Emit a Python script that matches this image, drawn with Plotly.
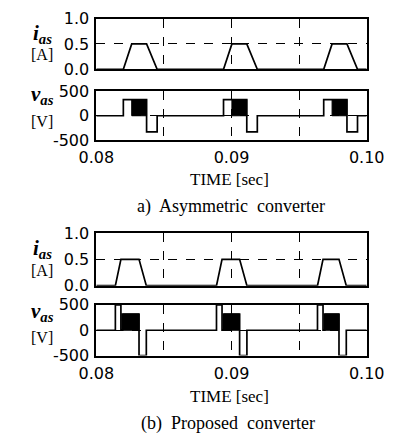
import plotly.graph_objects as go

W, H = 402, 447

# ---------------- data ----------------
# (a) Asymmetric converter
a_on        = [0.08200, 0.08941, 0.09682]   # phase switched on (+Vdc)
a_chop_beg  = [0.08262, 0.09003, 0.09744]   # start of current-regulation chopping
a_chop_end  = [0.08372, 0.09113, 0.09854]   # turn-off (−Vdc applied)
a_off       = [0.08450, 0.09191, 0.09932]   # current extinguished
a_vpos      = 330
a_vneg      = -330
a_ipeak     = 0.5

# (b) Proposed converter
b_boost_on  = [0.08141, 0.08889, 0.09636]   # boosted voltage applied
b_boost_off = [0.08182, 0.08930, 0.09677]
b_chop_beg  = [0.08195, 0.08943, 0.09690]
b_chop_end  = [0.08316, 0.09060, 0.09795]
b_off       = [0.08370, 0.09114, 0.09849]
b_vboost    = 500
b_vpos      = 320
b_vneg      = -500
b_ipeak     = 0.5

t_start, t_end = 0.08, 0.10
x_ticks = [0.08, 0.09, 0.10]
x_ticktext = ["0.08", "0.09", "0.10"]
x_minor_grid = [0.085, 0.095]
i_ticks = [0.0, 0.5, 1.0]
i_ticktext = ["0.0", "0.5", "1.0"]
v_ticks = [-500, 0, 500]
v_ticktext = ["-500", "0", "500"]


# ---------------- build waveforms from the arrays ----------------
def current_wave(on, top, fall, off, peak):
    xs, ys = [t_start], [0]
    for a, b, c, d in zip(on, top, fall, off):
        xs += [a, b, c, d]
        ys += [0, peak, peak, 0]
    xs.append(t_end); ys.append(0)
    return xs, ys


def blocks(beg, end, level):
    xs, ys = [], []
    for a, b in zip(beg, end):
        xs += [a, a, b, b, a, None]
        ys += [0, level, level, 0, 0, None]
    return xs, ys


# (a) voltage line
av_x, av_y = [t_start], [0]
for on, ce, off in zip(a_on, a_chop_end, a_off):
    av_x += [on, on, ce, ce, off, off]
    av_y += [0, a_vpos, a_vpos, a_vneg, a_vneg, 0]
av_x.append(t_end); av_y.append(0)

# (b) voltage line
bv_x, bv_y = [t_start], [0]
for bon, boff, cb, ce, off in zip(b_boost_on, b_boost_off, b_chop_beg, b_chop_end, b_off):
    bv_x += [bon, bon, boff, boff, cb, cb, ce, ce, off, off]
    bv_y += [0, b_vboost, b_vboost, 0, 0, b_vpos, b_vpos, b_vneg, b_vneg, 0]
bv_x.append(t_end); bv_y.append(0)

ai_x, ai_y = current_wave(a_on, a_chop_beg, a_chop_end, a_off, a_ipeak)
bi_x, bi_y = current_wave(b_boost_on, b_boost_off, b_chop_end, b_off, b_ipeak)
ab_x, ab_y = blocks(a_chop_beg, a_chop_end, a_vpos)
bb_x, bb_y = blocks(b_chop_beg, b_chop_end, b_vpos)

# ---------------- figure ----------------
fig = go.Figure()
LW = 1.7
line = dict(color="black", width=LW)

fig.add_trace(go.Scatter(x=ai_x, y=ai_y, mode="lines", line=line, xaxis="x", yaxis="y"))
fig.add_trace(go.Scatter(x=ab_x, y=ab_y, mode="lines", fill="toself", fillcolor="black",
                         line=dict(color="black", width=1), xaxis="x2", yaxis="y2"))
fig.add_trace(go.Scatter(x=av_x, y=av_y, mode="lines", line=line, xaxis="x2", yaxis="y2"))
fig.add_trace(go.Scatter(x=bi_x, y=bi_y, mode="lines", line=line, xaxis="x3", yaxis="y3"))
fig.add_trace(go.Scatter(x=bb_x, y=bb_y, mode="lines", fill="toself", fillcolor="black",
                         line=dict(color="black", width=1), xaxis="x4", yaxis="y4"))
fig.add_trace(go.Scatter(x=bv_x, y=bv_y, mode="lines", line=line, xaxis="x4", yaxis="y4"))


def py(px):
    return 1 - px / H


xdom = [86 / W, 383 / W]
tickfont = dict(family="DejaVu Sans", size=16, color="black")

common_ax = dict(showline=True, linecolor="black", linewidth=1.8, mirror=True,
                 zeroline=False, ticks="", fixedrange=True)
gridstyle = dict(showgrid=True, gridcolor="black", gridwidth=1, griddash="dash")


def xaxis(show_labels, anchor):
    d = dict(common_ax, domain=xdom, range=[t_start, t_end], anchor=anchor,
             tickmode="array", tickvals=x_ticks, ticktext=x_ticktext,
             showticklabels=show_labels, tickfont=tickfont, ticklabelstandoff=2,
             minor=dict(tickmode="array", tickvals=x_minor_grid, showgrid=True,
                        gridcolor="black", gridwidth=1, griddash="dash", ticks=""),
             **gridstyle)
    return d


def yaxis(dom, rng, vals, text, anchor):
    return dict(common_ax, domain=dom, range=rng, anchor=anchor,
                tickmode="array", tickvals=vals, ticktext=text,
                tickfont=tickfont, ticklabelstandoff=2, **gridstyle)


fig.update_layout(
    width=W, height=H,
    margin=dict(l=0, r=0, t=0, b=0),
    paper_bgcolor="white", plot_bgcolor="white",
    showlegend=False,
    xaxis=xaxis(False, "y"),
    xaxis2=xaxis(True, "y2"),
    xaxis3=xaxis(False, "y3"),
    xaxis4=xaxis(True, "y4"),
    yaxis=yaxis([py(63), py(10)], [0, 1], i_ticks, i_ticktext, "x"),
    yaxis2=yaxis([py(137), py(86)], [-500, 500], v_ticks, v_ticktext, "x2"),
    yaxis3=yaxis([py(289), py(234)], [0, 1], i_ticks, i_ticktext, "x3"),
    yaxis4=yaxis([py(362), py(309)], [-500, 500], v_ticks, v_ticktext, "x4"),
)

serif = "Liberation Serif"
ann = []


def lab(x, y, text, size, family=serif):
    ann.append(dict(x=x / W, y=py(y), xref="paper", yref="paper", text=text,
                    showarrow=False, xanchor="center", yanchor="middle",
                    font=dict(family=family, size=size, color="black")))


SYM_I = "<b><i>i</i></b><sub><b><i>as</i></b></sub>"
SYM_V = "<b><i>v</i></b><sub><b><i>as</i></b></sub>"
lab(27, 26, SYM_I, 21)
lab(26, 48, "[A]", 16)
lab(27, 90, SYM_V, 21)
lab(26, 118, "[V]", 16)
lab(27, 251, SYM_I, 21)
lab(26, 273, "[A]", 16)
lab(27, 316, SYM_V, 21)
lab(26, 343, "[V]", 16)

lab(232, 178, "TIME [sec]", 17)
lab(232, 405, "TIME [sec]", 17)
lab(234, 206, "a)  Asymmetric  converter", 18)
lab(231, 433, "(b)  Proposed  converter", 18)

fig.update_layout(annotations=ann)
fig.write_html("out.html", config={"displayModeBar": False},
               post_script="document.body.style.margin='0';")
